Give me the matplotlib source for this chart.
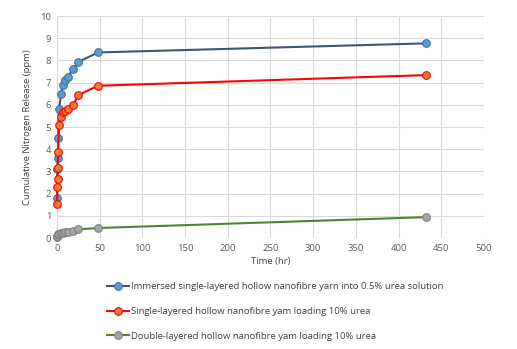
import matplotlib
matplotlib.use("Agg")
import matplotlib.pyplot as plt

# Data
t_blue = [0.25, 0.5, 1, 1.5, 2.5, 5, 7, 9, 13, 19, 25, 48, 432]
y_blue = [1.79, 3.09, 3.59, 4.49, 5.81, 6.49, 6.90, 7.12, 7.27, 7.61, 7.93, 8.36, 8.77]

t_red = [0.25, 0.5, 0.75, 1, 1.5, 2.5, 5, 7, 9, 13, 19, 25, 48, 432]
y_red = [1.52, 2.28, 2.66, 3.14, 3.89, 5.09, 5.46, 5.66, 5.72, 5.81, 5.98, 6.44, 6.86, 7.34]

t_green = [0.25, 0.5, 1, 2.5, 5, 7, 9, 13, 19, 25, 48, 432]
y_green = [0.06, 0.10, 0.17, 0.18, 0.22, 0.24, 0.25, 0.27, 0.30, 0.39, 0.45, 0.94]

labels = ["Immersed single-layered hollow nanofibre yarn into 0.5% urea solution",
          "Single-layered hollow nanofibre yam loading 10% urea",
          "Double-layered hollow nanofibre yam loading 10% urea"]

plt.rcParams['font.family'] = ['Open Sans', 'DejaVu Sans']
fig = plt.figure(figsize=(5.17, 3.49), dpi=100)
ax = fig.add_axes([0.110, 0.318, 0.826, 0.636])

ms = 5.5
ax.plot(t_blue, y_blue, '-o', color='#44546A', lw=1.5, ms=ms,
        mfc='#5B9BD5', mec='#41719C', mew=0.8, label=labels[0], zorder=3, clip_on=False)
ax.plot(t_red, y_red, '-o', color='#FF0000', lw=1.5, ms=ms,
        mfc='#ED7D31', mec='#FF0000', mew=0.8, label=labels[1], zorder=3, clip_on=False)
ax.plot(t_green, y_green, '-o', color='#548235', lw=1.5, ms=ms,
        mfc='#A5A5A5', mec='#7F7F7F', mew=0.8, label=labels[2], zorder=3, clip_on=False)

ax.set_xlim(0, 500)
ax.set_ylim(0, 10)
ax.set_xticks(range(0, 501, 50))
ax.set_yticks(range(0, 11, 1))
ax.grid(True, color='#D9D9D9', lw=0.8)
ax.set_axisbelow(True)
for s in ax.spines.values():
    s.set_visible(False)
ax.tick_params(length=0, labelsize=6.8, colors='#595959', pad=4)
ax.set_xlabel("Time (hr)", fontsize=6.8, color='#404040', labelpad=3)
ax.set_ylabel("Cumulative Nitrogen Release (ppm)", fontsize=6.8, color='#404040', labelpad=6)

leg = fig.legend(loc='upper left', bbox_to_anchor=(0.19, 0.215), frameon=False,
                 fontsize=6.8, labelspacing=1.65, handlelength=2.4, handletextpad=0.2)
for t in leg.get_texts():
    t.set_color('#404040')

fig.savefig("out.png", dpi=100)
